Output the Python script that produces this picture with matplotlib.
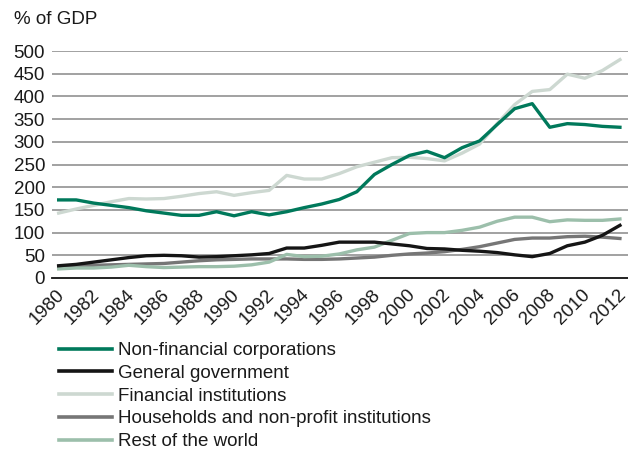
import matplotlib
matplotlib.use("Agg")
import matplotlib.pyplot as plt
import matplotlib.transforms as mtransforms
from matplotlib.lines import Line2D

plt.rcParams['font.family'] = ['Liberation Sans', 'DejaVu Sans']

years = list(range(1980, 2013))
nonfin = [172, 172, 165, 160, 155, 148, 143, 138, 138, 146, 137, 146, 139, 146, 155, 163, 173, 190, 228,
          250, 270, 279, 265, 287, 302, 338, 373, 384, 332, 340, 338, 334, 332]
govt = [27, 30, 35, 40, 45, 49, 50, 49, 46, 47, 49, 51, 54, 66, 66, 72, 79, 79, 79,
        75, 71, 65, 64, 61, 59, 56, 51, 47, 54, 71, 79, 94, 116]
fin = [143, 152, 160, 168, 175, 174, 175, 180, 186, 190, 182, 188, 193, 226, 218, 218, 230, 245, 255,
       265, 266, 263, 258, 275, 295, 340, 382, 411, 415, 449, 440, 457, 481]
house = [25, 27, 28, 29, 30, 31, 32, 35, 38, 40, 41, 42, 42, 42, 41, 41, 42, 44, 46,
         50, 53, 55, 58, 63, 69, 77, 85, 88, 88, 91, 92, 90, 87]
rest = [20, 22, 22, 24, 28, 25, 23, 24, 25, 25, 26, 29, 35, 52, 47, 48, 53, 62, 68,
        83, 98, 100, 100, 105, 112, 125, 134, 134, 124, 128, 127, 127, 130]

series_names = ["Non-financial corporations", "General government", "Financial institutions",
                "Households and non-profit institutions", "Rest of the world"]
colors = ["#00795b", "#151515", "#cdd8d1", "#767676", "#9cbfab"]
yticks = [0, 50, 100, 150, 200, 250, 300, 350, 400, 450, 500]
xticks = list(range(1980, 2013, 2))

FS = 13.5

fig = plt.figure(figsize=(6.28, 4.49), dpi=100)
ax = fig.add_axes([52/628, (449-278)/449, 1 - 52/628, (278-51)/449])

for yv in yticks[1:]:
    ax.axhline(yv, color="#9a9a9a", lw=1.3, zorder=1)

data = [nonfin, govt, fin, house, rest]
order = [3, 4, 1, 2, 0]
for i in order:
    ax.plot(years, data[i], color=colors[i], lw=2.4, zorder=3 + (1 if i == 0 else 0),
            solid_joinstyle='round', clip_on=False)

ax.set_xlim(1979.62, 2012.46)
ax.set_ylim(0, 500)
ax.set_yticks(yticks)
ax.set_yticklabels([str(v) for v in yticks], fontsize=FS, color="#1a1a1a")
ax.set_xticks(xticks)
ax.set_xticklabels([str(x) for x in xticks], fontsize=FS, rotation=45, ha='right', va='center',
                   rotation_mode='anchor', color="#1a1a1a")
ax.tick_params(axis='both', length=0)
ax.tick_params(axis='y', pad=5)
ax.tick_params(axis='x', pad=10)
offset = mtransforms.ScaledTranslation(3/100, 0, fig.dpi_scale_trans)
for lbl in ax.get_xticklabels():
    lbl.set_transform(lbl.get_transform() + offset)
for s in ['top', 'right', 'left']:
    ax.spines[s].set_visible(False)
ax.spines['bottom'].set_color('#111111')
ax.spines['bottom'].set_linewidth(1.3)
ax.spines['bottom'].set_zorder(5)

fig.text(14/628, 1 - 20/449, "% of GDP", fontsize=FS, color="#1a1a1a", va='center', ha='left')

handles = [Line2D([0], [0], color=c, lw=2.6) for c in colors]
leg = fig.legend(handles, series_names, loc='upper left', bbox_to_anchor=(59/628, 1 - 342/449),
                 frameon=False, fontsize=FS, handlelength=2.85, handletextpad=0.3,
                 labelspacing=0.3, borderaxespad=0, borderpad=0)
for t in leg.get_texts():
    t.set_color("#1a1a1a")

fig.savefig("out.png", dpi=100)
